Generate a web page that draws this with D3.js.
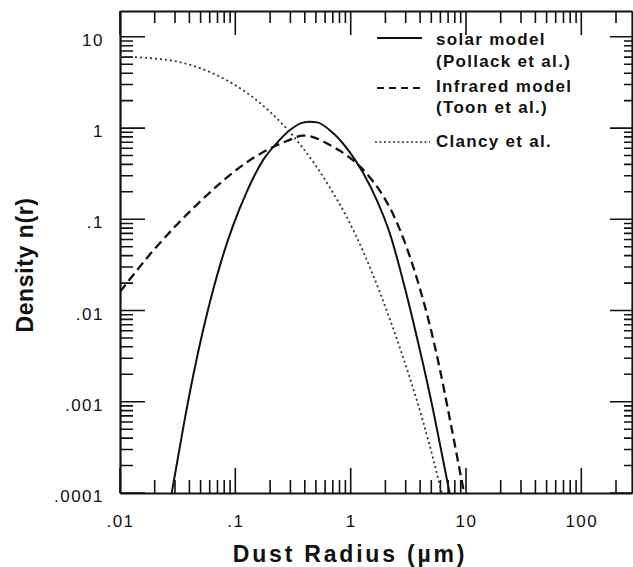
<!DOCTYPE html>
<html>
<head>
<meta charset="utf-8">
<script src="https://cdn.jsdelivr.net/npm/d3@7"></script>
<style>
  body { margin: 0; background: #fff; }
  svg { display: block; font-family: "Liberation Sans", Arial, sans-serif; }
</style>
</head>
<body>
<div id="chart"></div>
<script>
const WIDTH = 633, HEIGHT = 567;
const LEFT = 120, RIGHT = 632, TOP = 11, BOTTOM = 493;

// solar model (Pollack et al.) - solid
var solarR = [0.02808, 0.0354, 0.04322, 0.0528, 0.06447, 0.0762, 0.0955, 0.1256, 0.1739, 0.2286, 0.2979, 0.3784, 0.4446, 0.5113, 0.7036, 0.988, 1.281, 1.684, 2.196, 2.848, 3.477, 4.246, 5.185, 6.329, 7.207];
var solarN = [1e-4, 0.000528, 0.001963, 0.006267, 0.0172, 0.03614, 0.0851, 0.2003, 0.4457, 0.6846, 0.951, 1.14, 1.17, 1.155, 0.8814, 0.5374, 0.3235, 0.162, 0.0688, 0.02112, 0.00769, 0.002597, 0.000813, 0.00023, 1e-4];

// infrared model (Toon et al.) - dashed
var infraR = [0.01, 0.0193, 0.0312, 0.0465, 0.0737, 0.1167, 0.1886, 0.2803, 0.3863, 0.4704, 0.662, 0.931, 1.207, 1.473, 1.799, 2.196, 2.682, 3.275, 3.998, 4.882, 5.962, 7.279, 8.889, 9.627];
var infraN = [0.016, 0.045, 0.0877, 0.145, 0.248, 0.395, 0.575, 0.722, 0.828, 0.797, 0.651, 0.4995, 0.3774, 0.2858, 0.2033, 0.1324, 0.076, 0.0384, 0.01713, 0.00673, 0.002215, 0.000627, 0.0001686, 1e-4];

// Clancy et al. - dotted
var clancyR = [0.01, 0.01933, 0.03314, 0.0494, 0.07368, 0.1099, 0.1637, 0.2593, 0.364, 0.4912, 0.6629, 0.9307, 1.281, 1.799, 2.526, 3.275, 4.246, 5.185, 6.143];
var clancyN = [6.05, 5.81, 5.28, 4.54, 3.65, 2.74, 1.884, 1.086, 0.6629, 0.3974, 0.221, 0.1042, 0.04464, 0.0156, 0.004791, 0.001789, 0.000606, 0.000238, 1e-4];

var xMajor = [0.01, 0.1, 1, 10, 100];
var xLabels = [".01", ".1", "1", "10", "100"];
var yMajor = [0.0001, 0.001, 0.01, 0.1, 1, 10];
var yLabels = [".0001", ".001", ".01", ".1", "1", "10"];

var legendRows = ["solar model", "(Pollack et al.)", "Infrared model", "(Toon et al.)", "Clancy et al."];

var minorTicks = function (lo, hi) {
    var out = [];
    for (var e = Math.floor(Math.log10(lo)); e <= Math.ceil(Math.log10(hi)); e++) {
        for (var m = 2; m <= 9; m++) {
            var v = m * Math.pow(10, e);
            if (v > lo && v < hi) out.push(v);
        }
    }
    return out;
};

// inward tick marks along one side of the frame, as one path
var addMarks = function (svg, side, scale, values, len) {
    var horiz = side === 'bottom' || side === 'top';
    var pos = {bottom: BOTTOM, top: TOP, left: LEFT, right: RIGHT}[side];
    var dir = (side === 'bottom' || side === 'right') ? -1 : 1;
    var d = values.map(function (v) {
        var p = scale(v).toFixed(1);
        return horiz ? 'M' + p + ',' + pos + 'V' + (pos + dir * len)
                     : 'M' + pos + ',' + p + 'H' + (pos + dir * len);
    }).join('');
    svg.append('path')
        .attr('d', d)
        .attr('fill', 'none')
        .attr('stroke', '#111')
        .attr('stroke-width', 1.6);
};

var draw = function () {
    var xScale = d3.scaleLog().domain([0.01, 275]).range([LEFT, RIGHT]);
    var yScale = d3.scaleLog().domain([1e-4, 19.2]).range([BOTTOM, TOP]);

    var svg = d3.select('#chart').append('svg')
        .attr('width', WIDTH)
        .attr('height', HEIGHT);

    svg.append('clipPath').attr('id', 'plot')
        .append('rect')
        .attr('x', LEFT).attr('y', TOP)
        .attr('width', RIGHT - LEFT).attr('height', BOTTOM - TOP);

    var xMinor = minorTicks(0.01, 275);
    var yMinor = minorTicks(1e-4, 19.2);

    // frame + labels from d3 axes
    var xb = svg.append('g').attr('transform', 'translate(0,' + BOTTOM + ')')
        .call(d3.axisBottom(xScale).tickValues(xMajor).tickSize(0).tickPadding(22)
            .tickFormat(function (d) { return xLabels[xMajor.indexOf(d)]; }));
    svg.append('g').attr('transform', 'translate(0,' + TOP + ')')
        .call(d3.axisTop(xScale).tickValues([]).tickSize(0));
    var yl = svg.append('g').attr('transform', 'translate(' + LEFT + ',0)')
        .call(d3.axisLeft(yScale).tickValues(yMajor).tickSize(0).tickPadding(16)
            .tickFormat(function (d) { return yLabels[yMajor.indexOf(d)]; }));
    svg.append('g').attr('transform', 'translate(' + RIGHT + ',0)')
        .call(d3.axisRight(yScale).tickValues([]).tickSize(0));
    svg.selectAll('.domain').attr('stroke', '#111').attr('stroke-width', 2.2);
    svg.selectAll('.tick text').attr('fill', '#111').attr('font-size', 17).attr('letter-spacing', 1.5)
        .attr('font-family', '"Liberation Sans", Arial, sans-serif');
    yl.selectAll('text').attr('dy', '0.5em');
    xb.selectAll('text').attr('dy', '0.71em');

    addMarks(svg, 'bottom', xScale, xMinor, 13);
    addMarks(svg, 'bottom', xScale, xMajor, 25);
    addMarks(svg, 'top', xScale, xMinor, 12);
    addMarks(svg, 'top', xScale, xMajor, 24);
    addMarks(svg, 'left', yScale, yMinor, 13);
    addMarks(svg, 'left', yScale, yMajor, 25);
    addMarks(svg, 'right', yScale, yMinor, 8);
    addMarks(svg, 'right', yScale, yMajor, 22);

    var line = d3.line()
        .x(function (d) { return xScale(d[0]); })
        .y(function (d) { return yScale(d[1]); })
        .curve(d3.curveMonotoneX);

    var curves = svg.append('g').attr('clip-path', 'url(#plot)');
    curves.append('path')
        .attr('d', line(d3.zip(solarR, solarN)))
        .attr('fill', 'none').attr('stroke', '#111').attr('stroke-width', 2);
    curves.append('path')
        .attr('d', line(d3.zip(infraR, infraN)))
        .attr('fill', 'none').attr('stroke', '#111').attr('stroke-width', 2.3)
        .attr('stroke-dasharray', '9,5');
    curves.append('path')
        .attr('d', line(d3.zip(clancyR, clancyN)))
        .attr('fill', 'none').attr('stroke', '#333').attr('stroke-width', 1.8)
        .attr('stroke-dasharray', '2,3');

    // legend
    var lg = svg.append('g');
    lg.append('line').attr('x1', 377).attr('x2', 422).attr('y1', 38).attr('y2', 38)
        .attr('stroke', '#111').attr('stroke-width', 2);
    lg.append('line').attr('x1', 377).attr('x2', 424).attr('y1', 88).attr('y2', 88)
        .attr('stroke', '#111').attr('stroke-width', 1.8).attr('stroke-dasharray', '7,5');
    lg.append('line').attr('x1', 375).attr('x2', 430).attr('y1', 142).attr('y2', 142)
        .attr('stroke', '#333').attr('stroke-width', 1.6).attr('stroke-dasharray', '2,2.5');
    var rowY = [45, 67, 92, 113, 147];
    lg.selectAll('text.leg')
        .data(legendRows)
        .enter()
        .append('text')
        .attr('class', 'leg')
        .attr('x', 436)
        .attr('y', function (d, i) { return rowY[i]; })
        .attr('font-size', 17)
        .attr('font-weight', 'bold')
        .attr('letter-spacing', 1.3)
        .attr('fill', '#111')
        .text(function (d) { return d; });

    // axis titles
    svg.append('text')
        .attr('x', 350).attr('y', 562)
        .attr('text-anchor', 'middle')
        .attr('font-size', 23)
        .attr('font-weight', 'bold')
        .attr('letter-spacing', 2.8)
        .attr('fill', '#111')
        .text('Dust Radius (\u00b5m)');
    svg.append('text')
        .attr('transform', 'translate(33,265) rotate(-90)')
        .attr('text-anchor', 'middle')
        .attr('font-size', 23)
        .attr('font-weight', 'bold')
        .attr('letter-spacing', 0.6)
        .attr('fill', '#111')
        .text('Density n(r)');
};

window.onload = draw;
</script>
</body>
</html>
